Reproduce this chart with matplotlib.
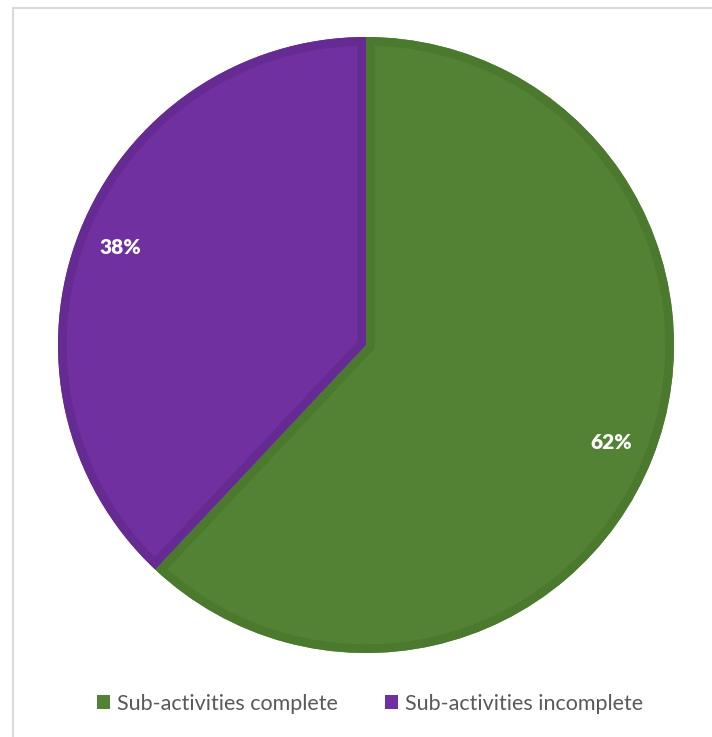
import matplotlib
matplotlib.use("Agg")
import matplotlib.pyplot as plt
from matplotlib.patches import Wedge, Rectangle, Patch

categories = ["Sub-activities complete", "Sub-activities incomplete"]
values = [62, 38]
colors = ["#548235", "#7030A0"]
edge_colors = ["#4B7A2E", "#662A93"]

W, H = 712, 737
fig = plt.figure(figsize=(W / 100, H / 100), dpi=100)
ax = fig.add_axes([0, 0, 1, 1])
ax.set_xlim(0, W)
ax.set_ylim(0, H)
ax.set_aspect("equal")
ax.axis("off")

# outer frame
fig.patches.append(Rectangle((12.5 / W, -0.1), 1.2, (H - 7.5) / H + 0.1,
                             transform=fig.transFigure, fill=False,
                             edgecolor="#D9D9D9", lw=1.5))

cx, cy, r = 366, H - 345, 308
wedges, texts, autotexts = ax.pie(
    values, colors=colors, startangle=90, counterclock=False,
    center=(cx, cy), radius=r, autopct="%1.0f%%", pctdistance=0.857,
    wedgeprops=dict(linewidth=0, edgecolor="none"),
    textprops=dict(color="white", fontsize=15, fontweight="heavy",
                   family="Lato"))
ax.set_xlim(0, W)
ax.set_ylim(0, H)

for w, ec in zip(wedges, edge_colors):
    stroke = Wedge(w.center, w.r, w.theta1, w.theta2, facecolor="none",
                   edgecolor=ec, lw=12.5, joinstyle="miter")
    ax.add_patch(stroke)
    stroke.set_clip_path(w)

handles = [Patch(facecolor=c, edgecolor="none") for c in colors]
leg = ax.legend(handles, categories, loc="center",
                bbox_to_anchor=(370 / W, 1 - 704 / H),
                bbox_transform=fig.transFigure, ncol=2, frameon=False,
                handlelength=0.62, handleheight=0.62, handletextpad=0.3,
                columnspacing=2.2,
                prop=dict(family="Lato", size=15.5))
for t in leg.get_texts():
    t.set_color("#595959")

fig.savefig("out.png", dpi=100, facecolor="white")
